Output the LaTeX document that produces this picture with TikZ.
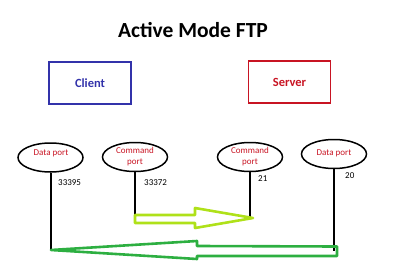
\documentclass[tikz,border=0pt]{standalone}
\usepackage{fontspec}
\setmainfont{Carlito}
\usetikzlibrary{shapes.geometric,calc}
\definecolor{cblue}{RGB}{50,50,170}
\definecolor{cred}{RGB}{200,20,35}
\definecolor{lgreen}{RGB}{175,225,25}
\definecolor{dgreen}{RGB}{45,175,65}
\tikzset{
  hostbox/.style={draw, line width=1.6pt, minimum width=82pt, minimum height=42pt, inner sep=0pt, font=\fontsize{12.5}{14}\selectfont\bfseries},
  portell/.style={draw, ellipse, line width=1.5pt, minimum width=65pt, minimum height=29pt, inner sep=0pt},
  portlbl/.style={text=cred, font=\fontsize{9}{10.7}\selectfont, align=center, inner sep=0pt},
  portnum/.style={font=\fontsize{9}{10}\selectfont, anchor=west, inner sep=0pt},
  wire/.style={line width=2pt, black},
  fatarrow/.style={line width=2.6pt, line join=round}
}
\begin{document}
\begin{tikzpicture}[x=1pt,y=-1pt]
\useasboundingbox (0,0) rectangle (400,263);
\node[font=\fontsize{21.5}{24}\selectfont\bfseries] (title) at (193,30) {Active Mode FTP};
\node[hostbox, draw=cblue, text=cblue] (client) at (90,83) {Client};
\node[hostbox, draw=cred, text=cred] (server) at (289.5,82) {Server};
% ellipses
\node[portell] (ldp) at (50.5,157.5) {};
\node[portell] (lcp) at (135,157) {};
\node[portell] (rcp) at (250,157) {};
\node[portell] (rdp) at (334,154) {};
\node[portlbl] (ldpt) at (51,153) {Data port};
\node[portlbl] (lcpt) at (135,156.5) {Command\\port};
\node[portlbl] (rcpt) at (250,156.5) {Command\\port};
\node[portlbl] (rdpt) at (334,153.5) {Data port};
% port numbers
\node[portnum] (n1) at (58,183) {33395};
\node[portnum] (n2) at (144,183) {33372};
\node[portnum] (n3) at (258,179) {21};
\node[portnum] (n4) at (345,176) {20};
% wire ends
\coordinate (ldEnd) at (51,250);
\coordinate (lcEnd) at (135,215);
\coordinate (rcEnd) at (251,218);
\coordinate (rdEnd) at (334,251);
\draw[wire] (ldp.south) -- (ldp.south |- ldEnd);
\draw[wire] (lcp.south) -- (lcp.south |- lcEnd);
\draw[wire] (rcp.south) -- (rcp.south |- rcEnd);
\draw[wire] (rdp.south) -- (rdp.south |- rdEnd);
% light green arrow (command connection)
\draw[fatarrow, lgreen] (lcEnd) -- ($(lcEnd)+(60,0)$) -- ($(lcEnd)+(60,-7)$) -- ($(rcEnd)+(2,0)$) -- ($(lcEnd)+(60,13)$) -- ($(lcEnd)+(60,8)$) -- ($(lcEnd)+(0,8)$) -- cycle;
% dark green arrow (data connection)
\draw[fatarrow, dgreen] (ldEnd) -- ($(ldEnd)+(146,-9)$) -- ($(ldEnd)+(146,-4)$) -- ($(rdEnd)+(3,-4.5)$) -- ($(rdEnd)+(3,5)$) -- ($(ldEnd)+(146,6)$) -- ($(ldEnd)+(146,9)$) -- cycle;
\end{tikzpicture}
\end{document}
